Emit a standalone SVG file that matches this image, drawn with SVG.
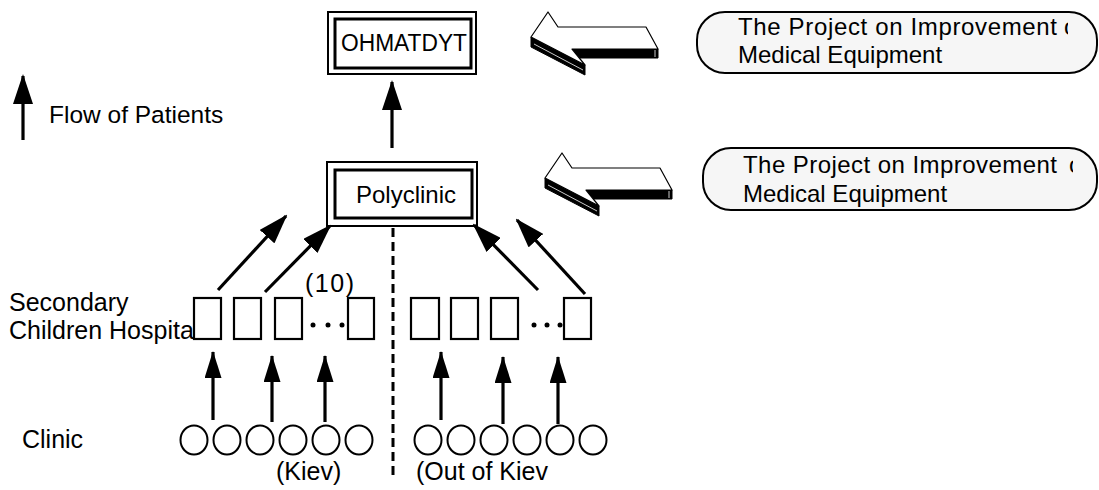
<svg xmlns="http://www.w3.org/2000/svg" width="1099" height="490" viewBox="0 0 1099 490">
<style>
text{font-family:"Liberation Sans",Arial,sans-serif;font-size:24px;fill:#000}
.lbl{font-size:25px}
.outer{fill:#fff;stroke:#000;stroke-width:2}
.inner{fill:none;stroke:#000;stroke-width:3}
.hosp{fill:#fff;stroke:#000;stroke-width:2.2}
.clin{fill:#fff;stroke:#000;stroke-width:2}
.pill{fill:#f6f6f6;stroke:#000;stroke-width:2}
.con{stroke:#000;stroke-width:3.2;fill:none}
.big{marker-end:url(#hb)}
.small{marker-end:url(#hs)}
</style>
<defs>
<marker id="hb" viewBox="0 0 30 20" refX="28" refY="10" markerWidth="30" markerHeight="20" markerUnits="userSpaceOnUse" orient="auto"><path d="M0,0 L30,10 L0,20 Z" fill="#000"/></marker>
<marker id="hs" viewBox="0 0 27 17" refX="26" refY="8.5" markerWidth="27" markerHeight="17" markerUnits="userSpaceOnUse" orient="auto"><path d="M0,0 L27,8.5 L0,17 Z" fill="#000"/></marker>
<g id="blk">
<polygon points="531,37 585,65 585,75 531,47" fill="#000" stroke="#000" stroke-width="1"/>
<polygon points="572,49 658,49 658,58 579,58" fill="#000" stroke="#000" stroke-width="1"/>
<line x1="534" y1="44" x2="583" y2="70" stroke="#fff" stroke-width="0.8"/>
<line x1="655" y1="50" x2="655" y2="57" stroke="#fff" stroke-width="0.8"/>
<polygon points="531,37 548,12 558,27 646,27 658,49 572,49 585,65" fill="#fff" stroke="#000" stroke-width="1.2" stroke-linejoin="round"/>
</g>
<clipPath id="c1"><rect x="1064" y="15" width="4" height="30"/></clipPath>
<clipPath id="c2"><rect x="1069" y="152" width="4" height="30"/></clipPath>
</defs>

<g id="legend">
<line class="con big" x1="23" y1="140" x2="23" y2="76"/>
<text x="49" y="123" style="font-size:24.5px">Flow of Patients</text>
</g>

<g id="ohmatdyt">
<rect class="outer" x="328" y="12" width="148" height="62"/>
<rect class="inner" x="335" y="19" width="136" height="49"/>
<text x="341" y="51" style="font-size:23px" textLength="126" lengthAdjust="spacingAndGlyphs">OHMATDYT</text>
</g>

<g id="polyclinic">
<rect class="outer" x="327" y="162" width="150" height="64"/>
<rect class="inner" x="335" y="170" width="137" height="48"/>
<text x="356" y="203">Polyclinic</text>
</g>

<g id="project-arrow-1"><use href="#blk"/></g>
<g id="project-arrow-2"><use href="#blk" transform="translate(14,141)"/></g>

<g id="project-1">
<rect class="pill" x="697" y="12" width="400" height="61" rx="28" ry="28"/>
<text x="738" y="35" textLength="319" lengthAdjust="spacing">The Project on Improvement</text>
<text x="1064" y="35" clip-path="url(#c1)">of</text>
<text x="738" y="63">Medical Equipment</text>
</g>

<g id="project-2">
<rect class="pill" x="703" y="148" width="394" height="62" rx="28" ry="28"/>
<text x="743" y="173" textLength="314" lengthAdjust="spacing">The Project on Improvement</text>
<text x="1069" y="173" clip-path="url(#c2)">of</text>
<text x="743" y="202">Medical Equipment</text>
</g>

<g id="labels">
<text class="lbl" x="9" y="311">Secondary</text>
<text class="lbl" x="9" y="339">Children Hospita</text>
<text class="lbl" x="22" y="448">Clinic</text>
<text class="lbl" x="305" y="292" letter-spacing="1.5">(10)</text>
<text class="lbl" x="276" y="480">(Kiev)</text>
<text class="lbl" x="416" y="480">(Out of Kiev</text>
</g>

<g id="hospitals-kiev">
<rect class="hosp" x="194" y="298" width="27" height="41"/>
<rect class="hosp" x="234" y="298" width="27" height="41"/>
<rect class="hosp" x="275" y="298" width="27" height="41"/>
<circle cx="313" cy="325" r="2.5"/><circle cx="328" cy="325" r="2.5"/><circle cx="342" cy="325" r="2.5"/>
<rect class="hosp" x="348" y="298" width="26" height="41"/>
</g>

<g id="hospitals-out">
<rect class="hosp" x="411" y="298" width="28" height="41"/>
<rect class="hosp" x="451" y="298" width="27" height="41"/>
<rect class="hosp" x="491" y="298" width="27" height="41"/>
<circle cx="534" cy="325" r="2.5"/><circle cx="547" cy="325" r="2.5"/><circle cx="560" cy="325" r="2.5"/>
<rect class="hosp" x="564" y="298" width="27" height="41"/>
</g>

<g id="clinics-kiev">
<ellipse class="clin" cx="194" cy="440" rx="13.5" ry="14.5"/><ellipse class="clin" cx="227" cy="440" rx="13.5" ry="14.5"/><ellipse class="clin" cx="260" cy="440" rx="13.5" ry="14.5"/>
<ellipse class="clin" cx="293" cy="440" rx="13.5" ry="14.5"/><ellipse class="clin" cx="326" cy="440" rx="13.5" ry="14.5"/><ellipse class="clin" cx="359" cy="440" rx="13.5" ry="14.5"/>
</g>
<g id="clinics-out">
<ellipse class="clin" cx="428" cy="440" rx="13.5" ry="14.5"/><ellipse class="clin" cx="461" cy="440" rx="13.5" ry="14.5"/><ellipse class="clin" cx="494" cy="440" rx="13.5" ry="14.5"/>
<ellipse class="clin" cx="527" cy="440" rx="13.5" ry="14.5"/><ellipse class="clin" cx="560" cy="440" rx="13.5" ry="14.5"/><ellipse class="clin" cx="593" cy="440" rx="13.5" ry="14.5"/>
</g>

<g id="connectors">
<line class="con big" x1="392" y1="148" x2="392" y2="82"/>
<line class="con big" x1="218" y1="290" x2="286" y2="216"/>
<line class="con big" x1="265" y1="292" x2="330" y2="226"/>
<line class="con big" x1="538" y1="290" x2="474" y2="225"/>
<line class="con big" x1="585" y1="294" x2="517" y2="220"/>
<line class="con small" x1="213" y1="420" x2="213" y2="352"/>
<line class="con small" x1="272" y1="422" x2="272" y2="356"/>
<line class="con small" x1="325" y1="422" x2="325" y2="356"/>
<line class="con small" x1="441" y1="420" x2="441" y2="352"/>
<line class="con small" x1="503" y1="424" x2="503" y2="357"/>
<line class="con small" x1="558" y1="424" x2="558" y2="357"/>
<line stroke="#000" stroke-width="3" stroke-dasharray="9,5" x1="393" y1="228" x2="393" y2="480"/>
</g>
</svg>
